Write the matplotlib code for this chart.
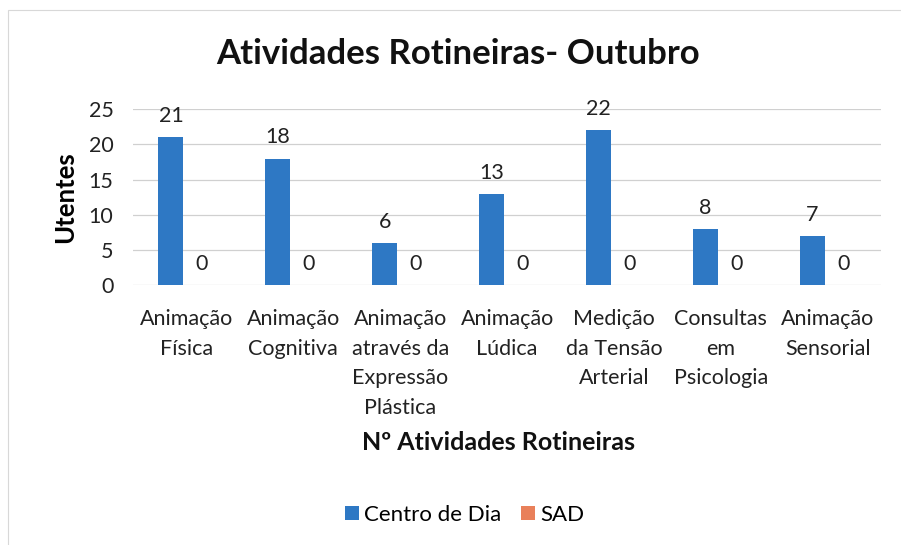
import matplotlib.pyplot as plt
import numpy as np
from matplotlib.patches import Rectangle

# --- dados ---
categorias = ["Animação\nFísica", "Animação\nCognitiva", "Animação\natravés da\nExpressão\nPlástica",
              "Animação\nLúdica", "Medição\nda Tensão\nArterial", "Consultas\nem\nPsicologia",
              "Animação\nSensorial"]
centro_de_dia = [21, 18, 6, 13, 22, 8, 7]
sad = [0, 0, 0, 0, 0, 0, 0]

AZUL = "#2E78C4"
LARANJA = "#E9805A"

plt.rcParams['font.family'] = ['Lato', 'DejaVu Sans']

fig = plt.figure(figsize=(9.01, 5.45), dpi=100)
ax = fig.add_axes([0.1476, 0.477, 0.8304, 0.3224])

x = np.arange(len(categorias))
larg = 0.234
desl = 0.145
b1 = ax.bar(x - desl, centro_de_dia, larg, color=AZUL, label="Centro de Dia", zorder=3)
b2 = ax.bar(x + desl, sad, larg, color=LARANJA, label="SAD", zorder=3)

for barras in (b1, b2):
    for b in barras:
        ax.annotate(str(int(b.get_height())), (b.get_x() + b.get_width() / 2, b.get_height()),
                    xytext=(0, 8), textcoords="offset points", ha="center", va="bottom",
                    fontsize=15.5, color="#222222")

ax.set_xlim(-0.5, len(categorias) - 0.5)
ax.set_ylim(0, 25)
ax.set_yticks(range(0, 26, 5))
ax.tick_params(axis='y', labelsize=15.5, length=0, pad=14, colors="#222222")
ax.tick_params(axis='x', labelsize=15.5, length=0, pad=17, colors="#222222")
ax.set_xticks(x)
ax.set_xticklabels(categorias, linespacing=1.62)
ax.grid(axis='y', color="#D0D0D0", linewidth=0.9, zorder=0)
for s in ax.spines.values():
    s.set_visible(False)

ax.set_ylabel("Utentes", fontsize=18.5, fontweight="bold", labelpad=8)
fig.text(0.508, 0.9, "Atividades Rotineiras- Outubro", ha="center", va="center",
         fontsize=25, fontweight="bold", color="#111111")
fig.text(0.553, 0.188, "Nº Atividades Rotineiras", ha="center", va="center",
         fontsize=18, fontweight="bold", color="#111111")

fig.legend(handles=[b1, b2], loc="center", bbox_to_anchor=(0.516, 0.055), ncol=2,
           frameon=False, fontsize=16, handlelength=0.6, handleheight=0.6,
           handletextpad=0.25, columnspacing=0.9)

fig.patches.append(Rectangle((0.009, -0.01), 1.0, 0.992, transform=fig.transFigure,
                             fill=False, edgecolor="#D8D8D8", linewidth=0.8))

fig.savefig("out.png", dpi=100)
